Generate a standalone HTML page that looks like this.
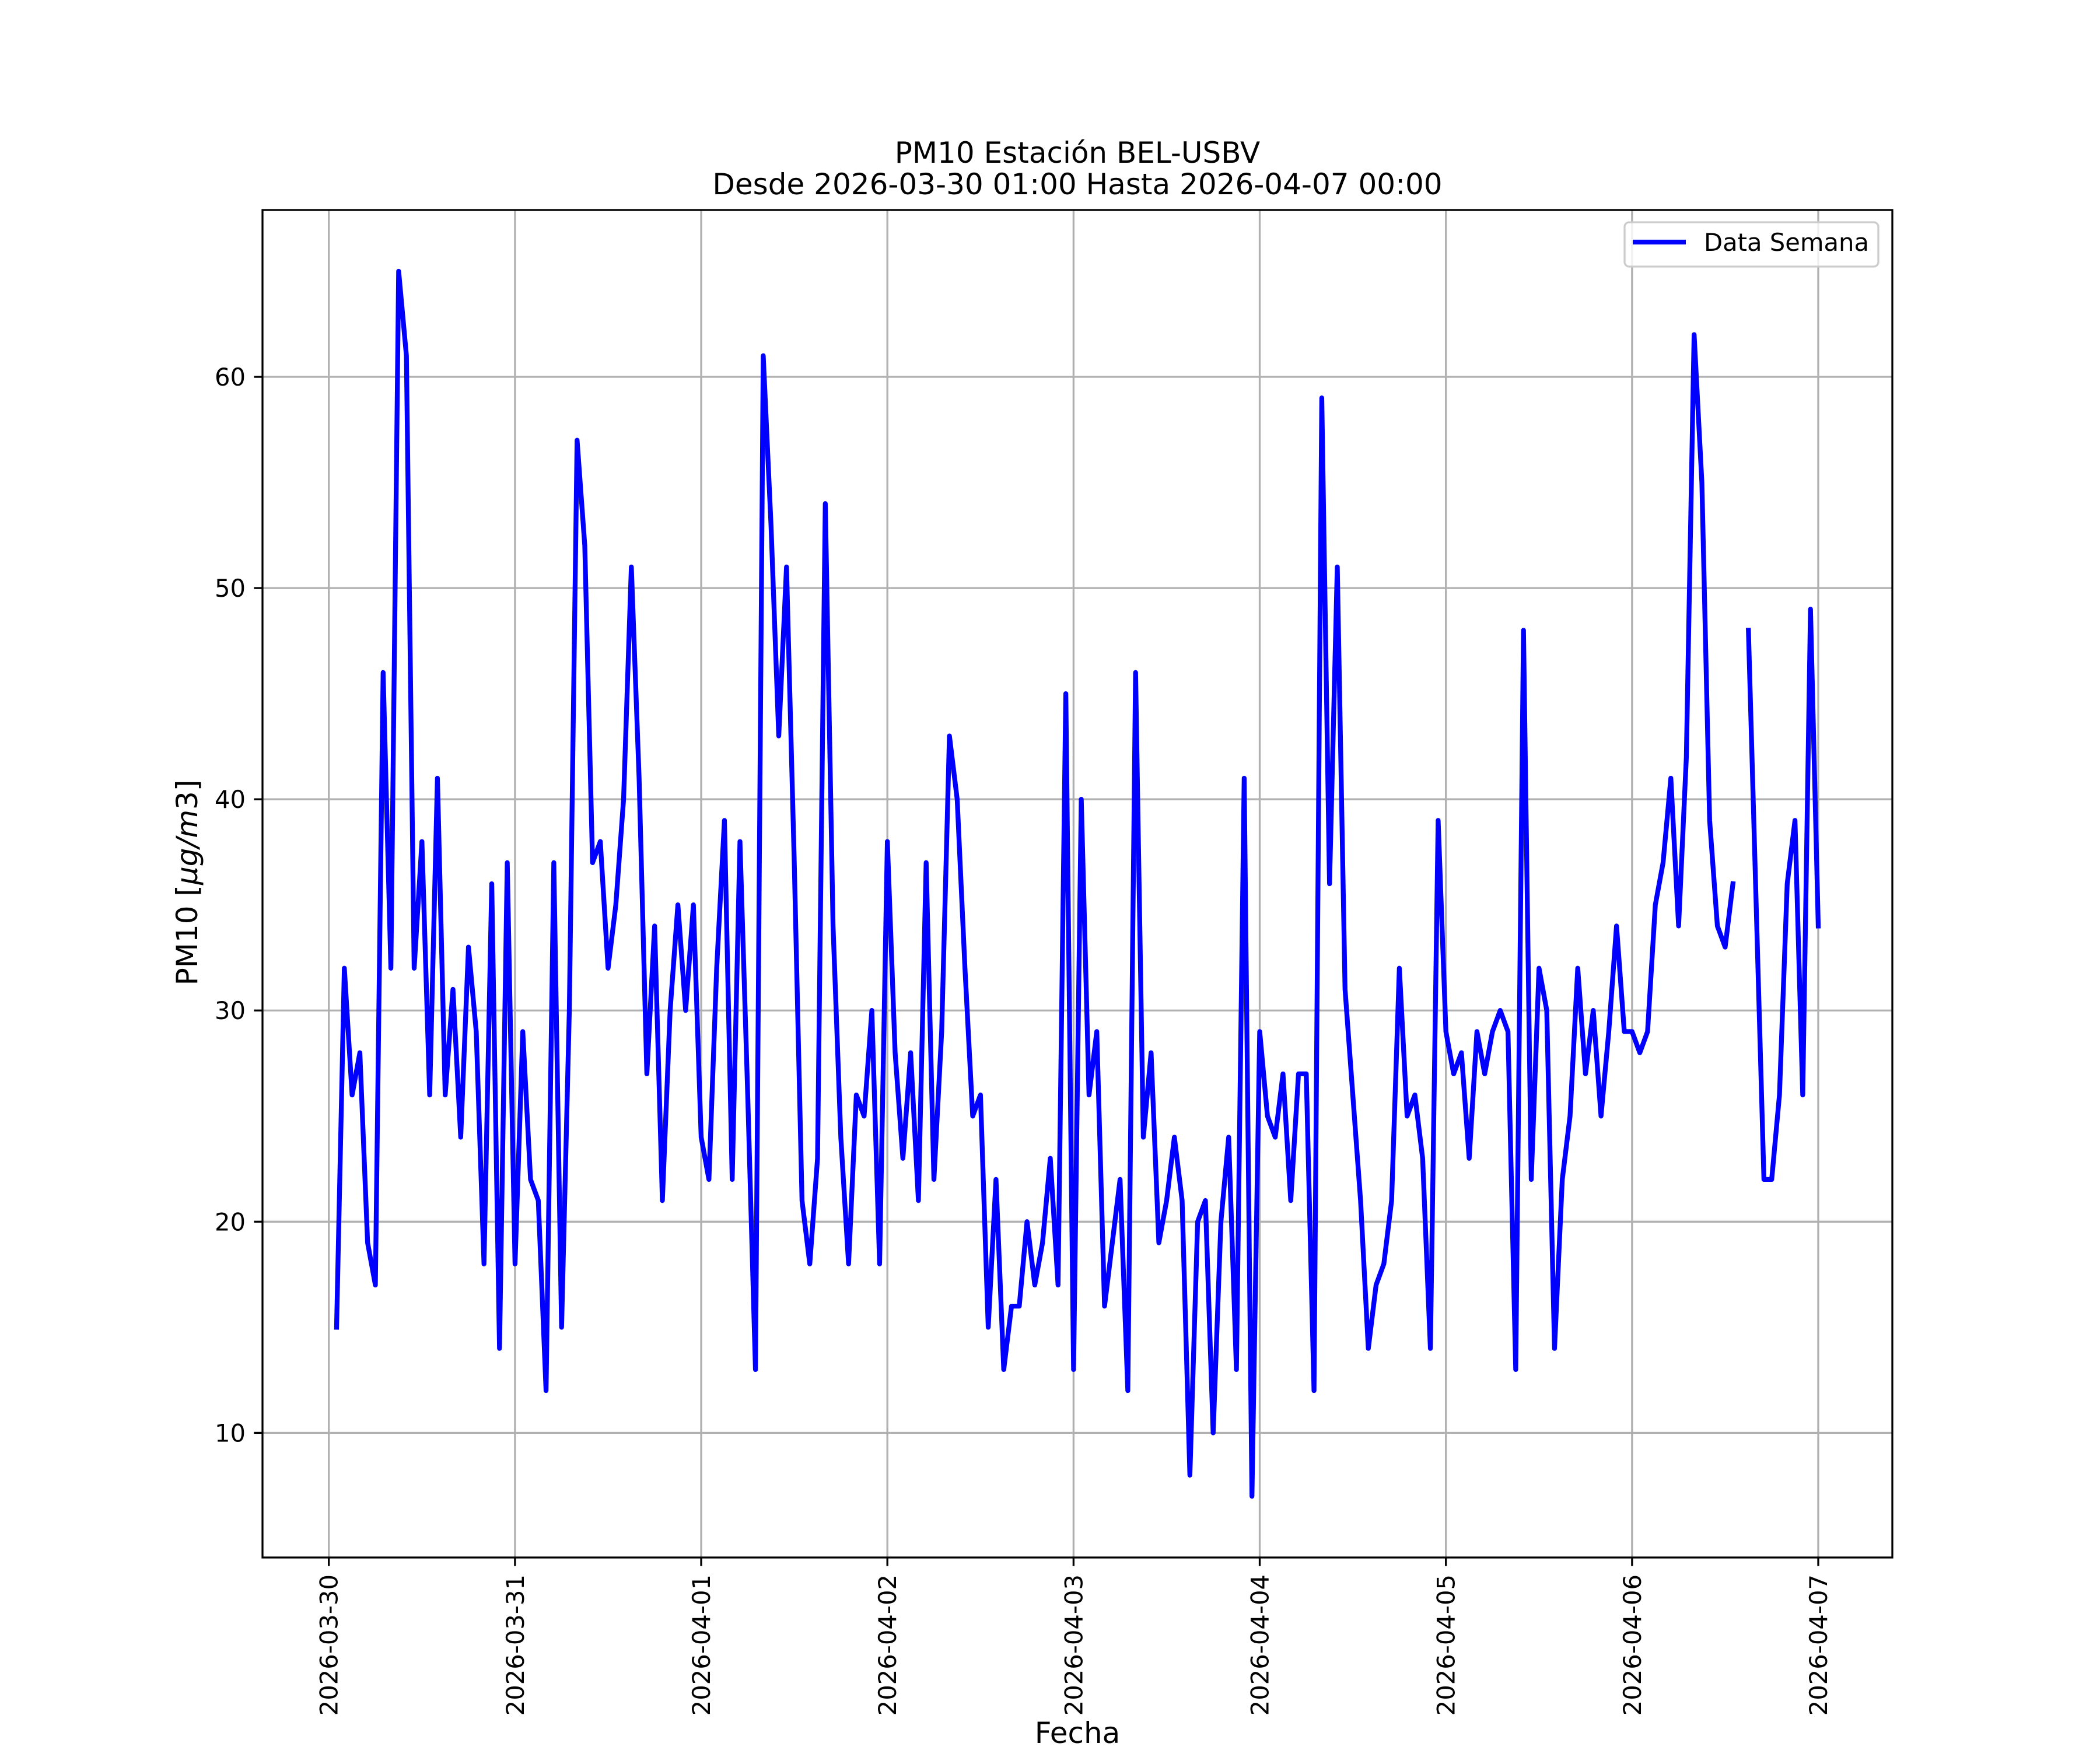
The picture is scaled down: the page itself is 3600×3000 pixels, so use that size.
<!DOCTYPE html>
<html><head><meta charset="utf-8"><style>
html,body{margin:0;padding:0;background:#fff}
svg{display:block;font-family:"DejaVu Sans","Liberation Sans",sans-serif}
</style></head><body>
<svg id="chart" width="3600" height="3000" viewBox="0 0 3600 3000" xmlns="http://www.w3.org/2000/svg">
<rect width="3600" height="3000" fill="#fff"/>
<g id="grid"></g>
<g id="series"></g>
<rect x="450" y="360" width="2794" height="2310" fill="none" stroke="#000" stroke-width="3.3"/>
<g id="ticks"></g>
<text x="1847" y="279" font-size="50" text-anchor="middle">PM10 Estación BEL-USBV</text>
<text x="1847" y="333" font-size="50" text-anchor="middle">Desde 2026-03-30 01:00 Hasta 2026-04-07 00:00</text>
<text x="1847" y="3000" dy="-12" font-size="50" text-anchor="middle">Fecha</text>
<text transform="translate(338,1513) rotate(-90)" font-size="50" text-anchor="middle">PM10 [<tspan font-style="italic">μg/m</tspan>3]</text>
<g>
<rect x="2785" y="381" width="435" height="76" rx="8" fill="#fff" fill-opacity="0.8" stroke="#cccccc" stroke-width="3.3"/>
<line x1="2799" y1="415" x2="2890" y2="415" stroke="#0000ff" stroke-width="8.3"/>
<text x="2921" y="430" font-size="41.7">Data Semana</text>
</g>
</svg>
<script>
const xTickLabels = ["2026-03-30","2026-03-31","2026-04-01","2026-04-02","2026-04-03","2026-04-04","2026-04-05","2026-04-06","2026-04-07"];
const yTicks = [10,20,30,40,50,60];
const startHour = 1; // 2026-03-30 01:00 relative to 03-30 00:00
const pm10 = [
15,32,26,28,19,17,46,32,65,61,32,38,26,41,26,31,24,33,29,18,36,14,37,18,
29,22,21,12,37,15,30,57,52,37,38,32,35,40,51,41,27,34,21,30,35,30,35,24,
22,32,39,22,38,26,13,61,53,43,51,37,21,18,23,54,34,24,18,26,25,30,18,38,
28,23,28,21,37,22,29,43,40,32,25,26,15,22,13,16,16,20,17,19,23,17,45,13,
40,26,29,16,19,22,12,46,24,28,19,21,24,21,8,20,21,10,20,24,13,41,7,29,
25,24,27,21,27,27,12,59,36,51,31,26,21,14,17,18,21,32,25,26,23,14,39,29,
27,28,23,29,27,29,30,29,13,48,22,32,30,14,22,25,32,27,30,25,29,34,29,29,
28,29,35,37,41,34,42,62,55,39,34,33,36,null,48,35,22,22,26,36,39,26,49,34];

const NS="http://www.w3.org/2000/svg";
const L=450,R=3244,T=360,B=2670;
const nHours=pm10.length-1;
const pad=nHours*0.05;
const xMin=startHour-pad, xMax=startHour+nHours+pad;
let vmin=Infinity,vmax=-Infinity;
pm10.forEach(v=>{if(v!==null){vmin=Math.min(vmin,v);vmax=Math.max(vmax,v);}});
const yMin=vmin-(vmax-vmin)*0.05, yMax=vmax+(vmax-vmin)*0.05;
const xs=h=>L+(h-xMin)/(xMax-xMin)*(R-L);
const ys=v=>B-(v-yMin)/(yMax-yMin)*(B-T);
const grid=document.getElementById('grid'), ticks=document.getElementById('ticks'), series=document.getElementById('series');
function mk(tag,attrs,parent){const e=document.createElementNS(NS,tag);for(const k in attrs)e.setAttribute(k,attrs[k]);parent.appendChild(e);return e;}

xTickLabels.forEach((lab,i)=>{
  const x=xs(i*24);
  const g=mk('line',{x1:x,y1:T,x2:x,y2:B,stroke:'#b0b0b0','stroke-width':3.3},grid);
  
  
  const t=mk('line',{x1:x,y1:B,x2:x,y2:B+14.6,stroke:'#000','stroke-width':3.3},ticks);
  
  
  const tx=mk('text',{transform:`translate(${x+15},${B+29}) rotate(-90)`,'font-size':41.7,'text-anchor':'end'},ticks);
  tx.textContent=lab;
  
  
});
yTicks.forEach(v=>{
  const y=ys(v);
  const g=mk('line',{x1:L,y1:y,x2:R,y2:y,stroke:'#b0b0b0','stroke-width':3.3},grid);
  
  
  const t=mk('line',{x1:L-14.6,y1:y,x2:L,y2:y,stroke:'#000','stroke-width':3.3},ticks);
  
  
  const tx=mk('text',{x:L-29,y:y+15,'font-size':41.7,'text-anchor':'end'},ticks);
  tx.textContent=v;
  
  
});
let d='',pen=false;
pm10.forEach((v,i)=>{
  if(v===null){pen=false;return;}
  d+=(pen?'L':'M')+xs(startHour+i).toFixed(1)+','+ys(v).toFixed(1);
  pen=true;
});
const p=mk('path',{d:d,fill:'none',stroke:'#0000ff','stroke-width':8.3,'stroke-linejoin':'round','stroke-linecap':'square'},series);


</script>
</body></html>
